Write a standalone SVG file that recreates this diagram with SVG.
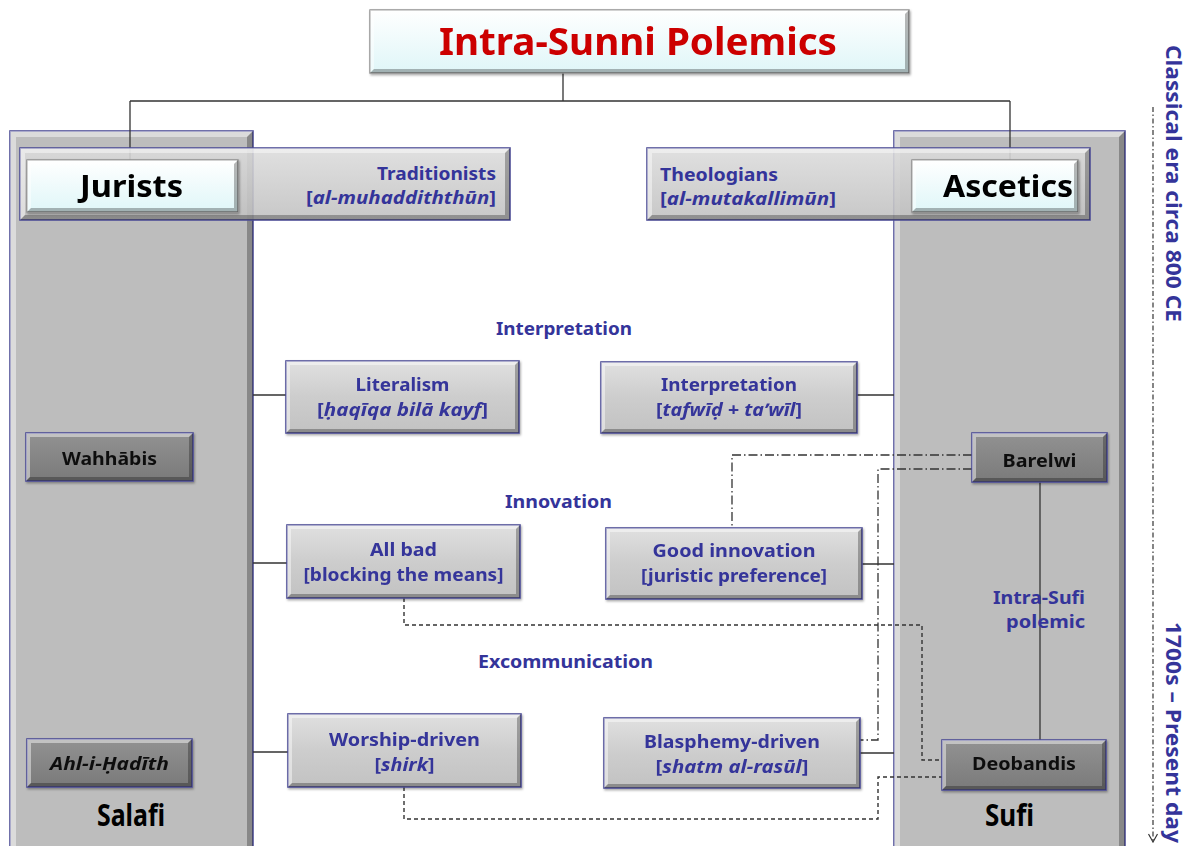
<svg xmlns="http://www.w3.org/2000/svg" width="1191" height="846" viewBox="0 0 1191 846">
  <defs>
    <linearGradient id="gWhite" x1="0" y1="0" x2="0" y2="1">
      <stop offset="0" stop-color="#ffffff"/>
      <stop offset="1" stop-color="#dff6f8"/>
    </linearGradient>
    <linearGradient id="gGray" x1="0" y1="0" x2="0" y2="1">
      <stop offset="0" stop-color="#e0e0e0"/>
      <stop offset="0.5" stop-color="#cdcdcd"/>
      <stop offset="1" stop-color="#c2c2c2"/>
    </linearGradient>
    <linearGradient id="gBanner" x1="0" y1="0" x2="0" y2="1">
      <stop offset="0" stop-color="#dcdcdc"/>
      <stop offset="1" stop-color="#c0c0c0"/>
    </linearGradient>
    <linearGradient id="gDark" x1="0" y1="0" x2="0" y2="1">
      <stop offset="0" stop-color="#929292"/>
      <stop offset="1" stop-color="#7a7a7a"/>
    </linearGradient>
    <filter id="shadow" x="-5%" y="-5%" width="110%" height="120%">
      <feDropShadow dx="1" dy="1.5" stdDeviation="1" flood-color="#000" flood-opacity="0.35"/>
    </filter>
    <marker id="chev" viewBox="0 0 10 10" refX="9" refY="5" markerWidth="10" markerHeight="10" markerUnits="userSpaceOnUse" orient="auto">
      <path d="M1,0.5 L9,5 L1,9.5" fill="none" stroke="#333" stroke-width="1.2"/>
    </marker>
    <style>
      .frame { stroke: #4e4e96; stroke-width: 1.6; }
      .plain { stroke: #8c8c8c; stroke-width: 1.4; }
      .col { fill: #bdbdbd; }
      .banner { fill: url(#gBanner); fill-opacity: 0.88; }
      .btn { fill: url(#gWhite); }
      .box { fill: url(#gGray); }
      .dark { fill: url(#gDark); }
      .hi { fill: #ffffff; opacity: 0.45; }
      .lo { fill: #000000; opacity: 0.28; }
      text { font-family: "Noto Sans", "DejaVu Sans", "Liberation Sans", sans-serif; font-weight: bold; }
      .lbl { fill: #34349a; font-size: 17px; text-anchor: middle; }
      .end { text-anchor: end; }
      .start { text-anchor: start; }
      .blk { fill: #111; font-size: 17px; text-anchor: middle; }
      .big { fill: #000; font-size: 30px; text-anchor: middle; }
      .it { font-style: italic; }
      .line { fill: none; stroke: #333; stroke-width: 1.3; }
      .dash { fill: none; stroke: #333; stroke-width: 1.4; stroke-dasharray: 4 3; }
      .dashdot { fill: none; stroke: #333; stroke-width: 1.3; stroke-dasharray: 9 3 1.5 3; }
      .time { fill: none; stroke: #444; stroke-width: 1.3; stroke-dasharray: 5 2.5 1.5 2.5; }
    </style>
  </defs>

  <rect width="1191" height="846" fill="#ffffff"/>

  <!-- Salafi column -->
  <g id="col-salafi" transform="translate(10,131)">
    <rect class="col frame" width="243" height="730"/>
    <polygon class="hi" points="0,0 243,0 237,6 6,6 6,724 0,730"/>
    <polygon class="lo" points="243,0 243,730 237,724 237,6"/>
    <text class="big" x="121" y="695" font-size="26" textLength="68" lengthAdjust="spacingAndGlyphs">Salafi</text>
  </g>

  <!-- Sufi column -->
  <g id="col-sufi" transform="translate(894,131)">
    <rect class="col frame" width="231" height="730"/>
    <polygon class="hi" points="0,0 231,0 225,6 6,6 6,724 0,730"/>
    <polygon class="lo" points="231,0 231,730 225,724 225,6"/>
    <text class="big" x="115.5" y="695" font-size="26" textLength="49" lengthAdjust="spacingAndGlyphs">Sufi</text>
  </g>

  <!-- Timeline on the right -->
  <g id="timeline">
    <line class="time" x1="1153" y1="107" x2="1153" y2="842" marker-end="url(#chev)"/>
    <text transform="translate(1166,45) rotate(90)" fill="#34349a" font-size="22" textLength="277" lengthAdjust="spacingAndGlyphs">Classical era circa 800 CE</text>
    <text transform="translate(1166,622) rotate(90)" fill="#34349a" font-size="22" textLength="221" lengthAdjust="spacingAndGlyphs">1700s – Present day</text>
  </g>

  <!-- Connectors -->
  <g id="connectors">
    <path class="line" d="M563,73 V101 M130,101 H1010 M130,101 V161 M1010,101 V161"/>
    <path class="line" d="M253,395 H286 M857,395 H894 M253,563 H287 M862,564 H894 M253,752 H288 M860,753 H894"/>
    <path class="line" d="M1040,482 V740"/>
    <path class="dashdot" d="M972,455 H732 V528"/>
    <path class="dashdot" d="M972,469 H878 V740 H860"/>
    <path class="dash" d="M404,598 V625 H922 V760 H942"/>
    <path class="dash" d="M404,787 V819 H878 V777 H942"/>
  </g>

  <!-- Title -->
  <g id="title" transform="translate(370,10)" filter="url(#shadow)">
    <rect class="btn plain" width="539" height="63"/>
    <polygon class="hi" points="0,0 539,0 535,4 4,4 4,59 0,63"/>
    <polygon class="lo" points="539,0 539,63 0,63 4,59 535,59 535,4"/>
    <text x="268" y="45" fill="#cc0000" font-size="38" text-anchor="middle" textLength="398" lengthAdjust="spacingAndGlyphs">Intra-Sunni Polemics</text>
  </g>

  <!-- Jurists / Traditionists banner -->
  <g id="traditionists" transform="translate(20,148)">
    <rect class="banner frame" width="490" height="72"/>
    <polygon class="hi" points="0,0 490,0 485,5 5,5 5,67 0,72"/>
    <polygon class="lo" points="490,0 490,72 0,72 5,67 485,67 485,5"/>
    <text class="lbl end" x="476" y="32" font-size="18" textLength="119" lengthAdjust="spacingAndGlyphs">Traditionists</text>
    <text class="lbl end" x="476" y="56" font-size="18" textLength="190" lengthAdjust="spacingAndGlyphs">[<tspan class="it">al-muhaddiththūn</tspan>]</text>
  </g>
  <g id="jurists" transform="translate(27,160)" filter="url(#shadow)">
    <rect class="btn plain" width="211" height="52"/>
    <polygon class="hi" points="0,0 211,0 207,4 4,4 4,48 0,52"/>
    <polygon class="lo" points="211,0 211,52 0,52 4,48 207,48 207,4"/>
    <text class="big" x="104.5" y="37" textLength="103" lengthAdjust="spacingAndGlyphs">Jurists</text>
  </g>

  <!-- Ascetics / Theologians banner -->
  <g id="theologians" transform="translate(647,148)">
    <rect class="banner frame" width="443" height="72"/>
    <polygon class="hi" points="0,0 443,0 438,5 5,5 5,67 0,72"/>
    <polygon class="lo" points="443,0 443,72 0,72 5,67 438,67 438,5"/>
    <text class="lbl start" x="13" y="33" font-size="18" textLength="118" lengthAdjust="spacingAndGlyphs">Theologians</text>
    <text class="lbl start" x="13" y="57" font-size="18" textLength="176" lengthAdjust="spacingAndGlyphs">[<tspan class="it">al-mutakallimūn</tspan>]</text>
  </g>
  <g id="ascetics" transform="translate(912,160)" filter="url(#shadow)">
    <rect class="btn plain" width="166" height="52"/>
    <polygon class="hi" points="0,0 166,0 162,4 4,4 4,48 0,52"/>
    <polygon class="lo" points="166,0 166,52 0,52 4,48 162,48 162,4"/>
    <text class="big" x="96" y="37" textLength="130" lengthAdjust="spacingAndGlyphs">Ascetics</text>
  </g>

  <!-- Section headings -->
  <g id="headings">
    <text class="lbl" x="564" y="335" textLength="136" lengthAdjust="spacingAndGlyphs">Interpretation</text>
    <text class="lbl" x="558.5" y="508" textLength="107" lengthAdjust="spacingAndGlyphs">Innovation</text>
    <text class="lbl" x="565.5" y="668" textLength="175" lengthAdjust="spacingAndGlyphs">Excommunication</text>
  </g>

  <!-- Interpretation row -->
  <g id="literalism" transform="translate(286,361)" filter="url(#shadow)">
    <rect class="box frame" width="233" height="72"/>
    <polygon class="hi" points="0,0 233,0 229,4 4,4 4,68 0,72"/>
    <polygon class="lo" points="233,0 233,72 0,72 4,68 229,68 229,4"/>
    <text class="lbl" x="116.5" y="30" textLength="94" lengthAdjust="spacingAndGlyphs">Literalism</text>
    <text class="lbl" x="116.5" y="55" textLength="171" lengthAdjust="spacingAndGlyphs">[<tspan class="it">ḥaqīqa bilā kayf</tspan>]</text>
  </g>
  <g id="interpretation" transform="translate(601,362)" filter="url(#shadow)">
    <rect class="box frame" width="256" height="71"/>
    <polygon class="hi" points="0,0 256,0 252,4 4,4 4,67 0,71"/>
    <polygon class="lo" points="256,0 256,71 0,71 4,67 252,67 252,4"/>
    <text class="lbl" x="128" y="29" textLength="136" lengthAdjust="spacingAndGlyphs">Interpretation</text>
    <text class="lbl" x="128" y="54" textLength="146" lengthAdjust="spacingAndGlyphs">[<tspan class="it">tafwīḍ + taʹwīl</tspan>]</text>
  </g>

  <!-- Innovation row -->
  <g id="all-bad" transform="translate(287,525)" filter="url(#shadow)">
    <rect class="box frame" width="233" height="73"/>
    <polygon class="hi" points="0,0 233,0 229,4 4,4 4,69 0,73"/>
    <polygon class="lo" points="233,0 233,73 0,73 4,69 229,69 229,4"/>
    <text class="lbl" x="116.5" y="31" textLength="67" lengthAdjust="spacingAndGlyphs">All bad</text>
    <text class="lbl" x="116.5" y="56" textLength="200" lengthAdjust="spacingAndGlyphs">[blocking the means]</text>
  </g>
  <g id="good-innovation" transform="translate(606,528)" filter="url(#shadow)">
    <rect class="box frame" width="256" height="71"/>
    <polygon class="hi" points="0,0 256,0 252,4 4,4 4,67 0,71"/>
    <polygon class="lo" points="256,0 256,71 0,71 4,67 252,67 252,4"/>
    <text class="lbl" x="128" y="29" textLength="163" lengthAdjust="spacingAndGlyphs">Good innovation</text>
    <text class="lbl" x="128" y="54" textLength="186" lengthAdjust="spacingAndGlyphs">[juristic preference]</text>
  </g>

  <!-- Excommunication row -->
  <g id="worship-driven" transform="translate(288,714)" filter="url(#shadow)">
    <rect class="box frame" width="233" height="73"/>
    <polygon class="hi" points="0,0 233,0 229,4 4,4 4,69 0,73"/>
    <polygon class="lo" points="233,0 233,73 0,73 4,69 229,69 229,4"/>
    <text class="lbl" x="116.5" y="32" textLength="151" lengthAdjust="spacingAndGlyphs">Worship-driven</text>
    <text class="lbl" x="116.5" y="57" textLength="60" lengthAdjust="spacingAndGlyphs">[<tspan class="it">shirk</tspan>]</text>
  </g>
  <g id="blasphemy-driven" transform="translate(604,718)" filter="url(#shadow)">
    <rect class="box frame" width="256" height="70"/>
    <polygon class="hi" points="0,0 256,0 252,4 4,4 4,66 0,70"/>
    <polygon class="lo" points="256,0 256,70 0,70 4,66 252,66 252,4"/>
    <text class="lbl" x="128" y="30" textLength="176" lengthAdjust="spacingAndGlyphs">Blasphemy-driven</text>
    <text class="lbl" x="128" y="55" textLength="153" lengthAdjust="spacingAndGlyphs">[<tspan class="it">shatm al-rasūl</tspan>]</text>
  </g>

  <!-- Movements -->
  <g id="wahhabis" transform="translate(26,433)" filter="url(#shadow)">
    <rect class="dark frame" width="167" height="48"/>
    <polygon class="hi" points="0,0 167,0 163,4 4,4 4,44 0,48"/>
    <polygon class="lo" points="167,0 167,48 0,48 4,44 163,44 163,4"/>
    <text class="blk" x="83.5" y="32" textLength="95" lengthAdjust="spacingAndGlyphs">Wahhābis</text>
  </g>
  <g id="ahl-i-hadith" transform="translate(27,739)" filter="url(#shadow)">
    <rect class="dark frame" width="165" height="48"/>
    <polygon class="hi" points="0,0 165,0 161,4 4,4 4,44 0,48"/>
    <polygon class="lo" points="165,0 165,48 0,48 4,44 161,44 161,4"/>
    <text class="blk it" x="82.5" y="31" textLength="119" lengthAdjust="spacingAndGlyphs">Ahl-i-Ḥadīth</text>
  </g>
  <g id="barelwi" transform="translate(972,433)" filter="url(#shadow)">
    <rect class="dark frame" width="135" height="49"/>
    <polygon class="hi" points="0,0 135,0 131,4 4,4 4,45 0,49"/>
    <polygon class="lo" points="135,0 135,49 0,49 4,45 131,45 131,4"/>
    <text class="blk" x="67.5" y="34" textLength="74" lengthAdjust="spacingAndGlyphs">Barelwi</text>
  </g>
  <g id="deobandis" transform="translate(942,740)" filter="url(#shadow)">
    <rect class="dark frame" width="164" height="50"/>
    <polygon class="hi" points="0,0 164,0 160,4 4,4 4,46 0,50"/>
    <polygon class="lo" points="164,0 164,50 0,50 4,46 160,46 160,4"/>
    <text class="blk" x="82" y="30" textLength="104" lengthAdjust="spacingAndGlyphs">Deobandis</text>
  </g>

  <!-- Label on the Barelwi–Deobandis link -->
  <g id="intra-sufi">
    <text class="lbl" x="1039" y="604" textLength="92" lengthAdjust="spacingAndGlyphs">Intra-Sufi</text>
    <text class="lbl" x="1045.5" y="628" textLength="79" lengthAdjust="spacingAndGlyphs">polemic</text>
  </g>
</svg>
